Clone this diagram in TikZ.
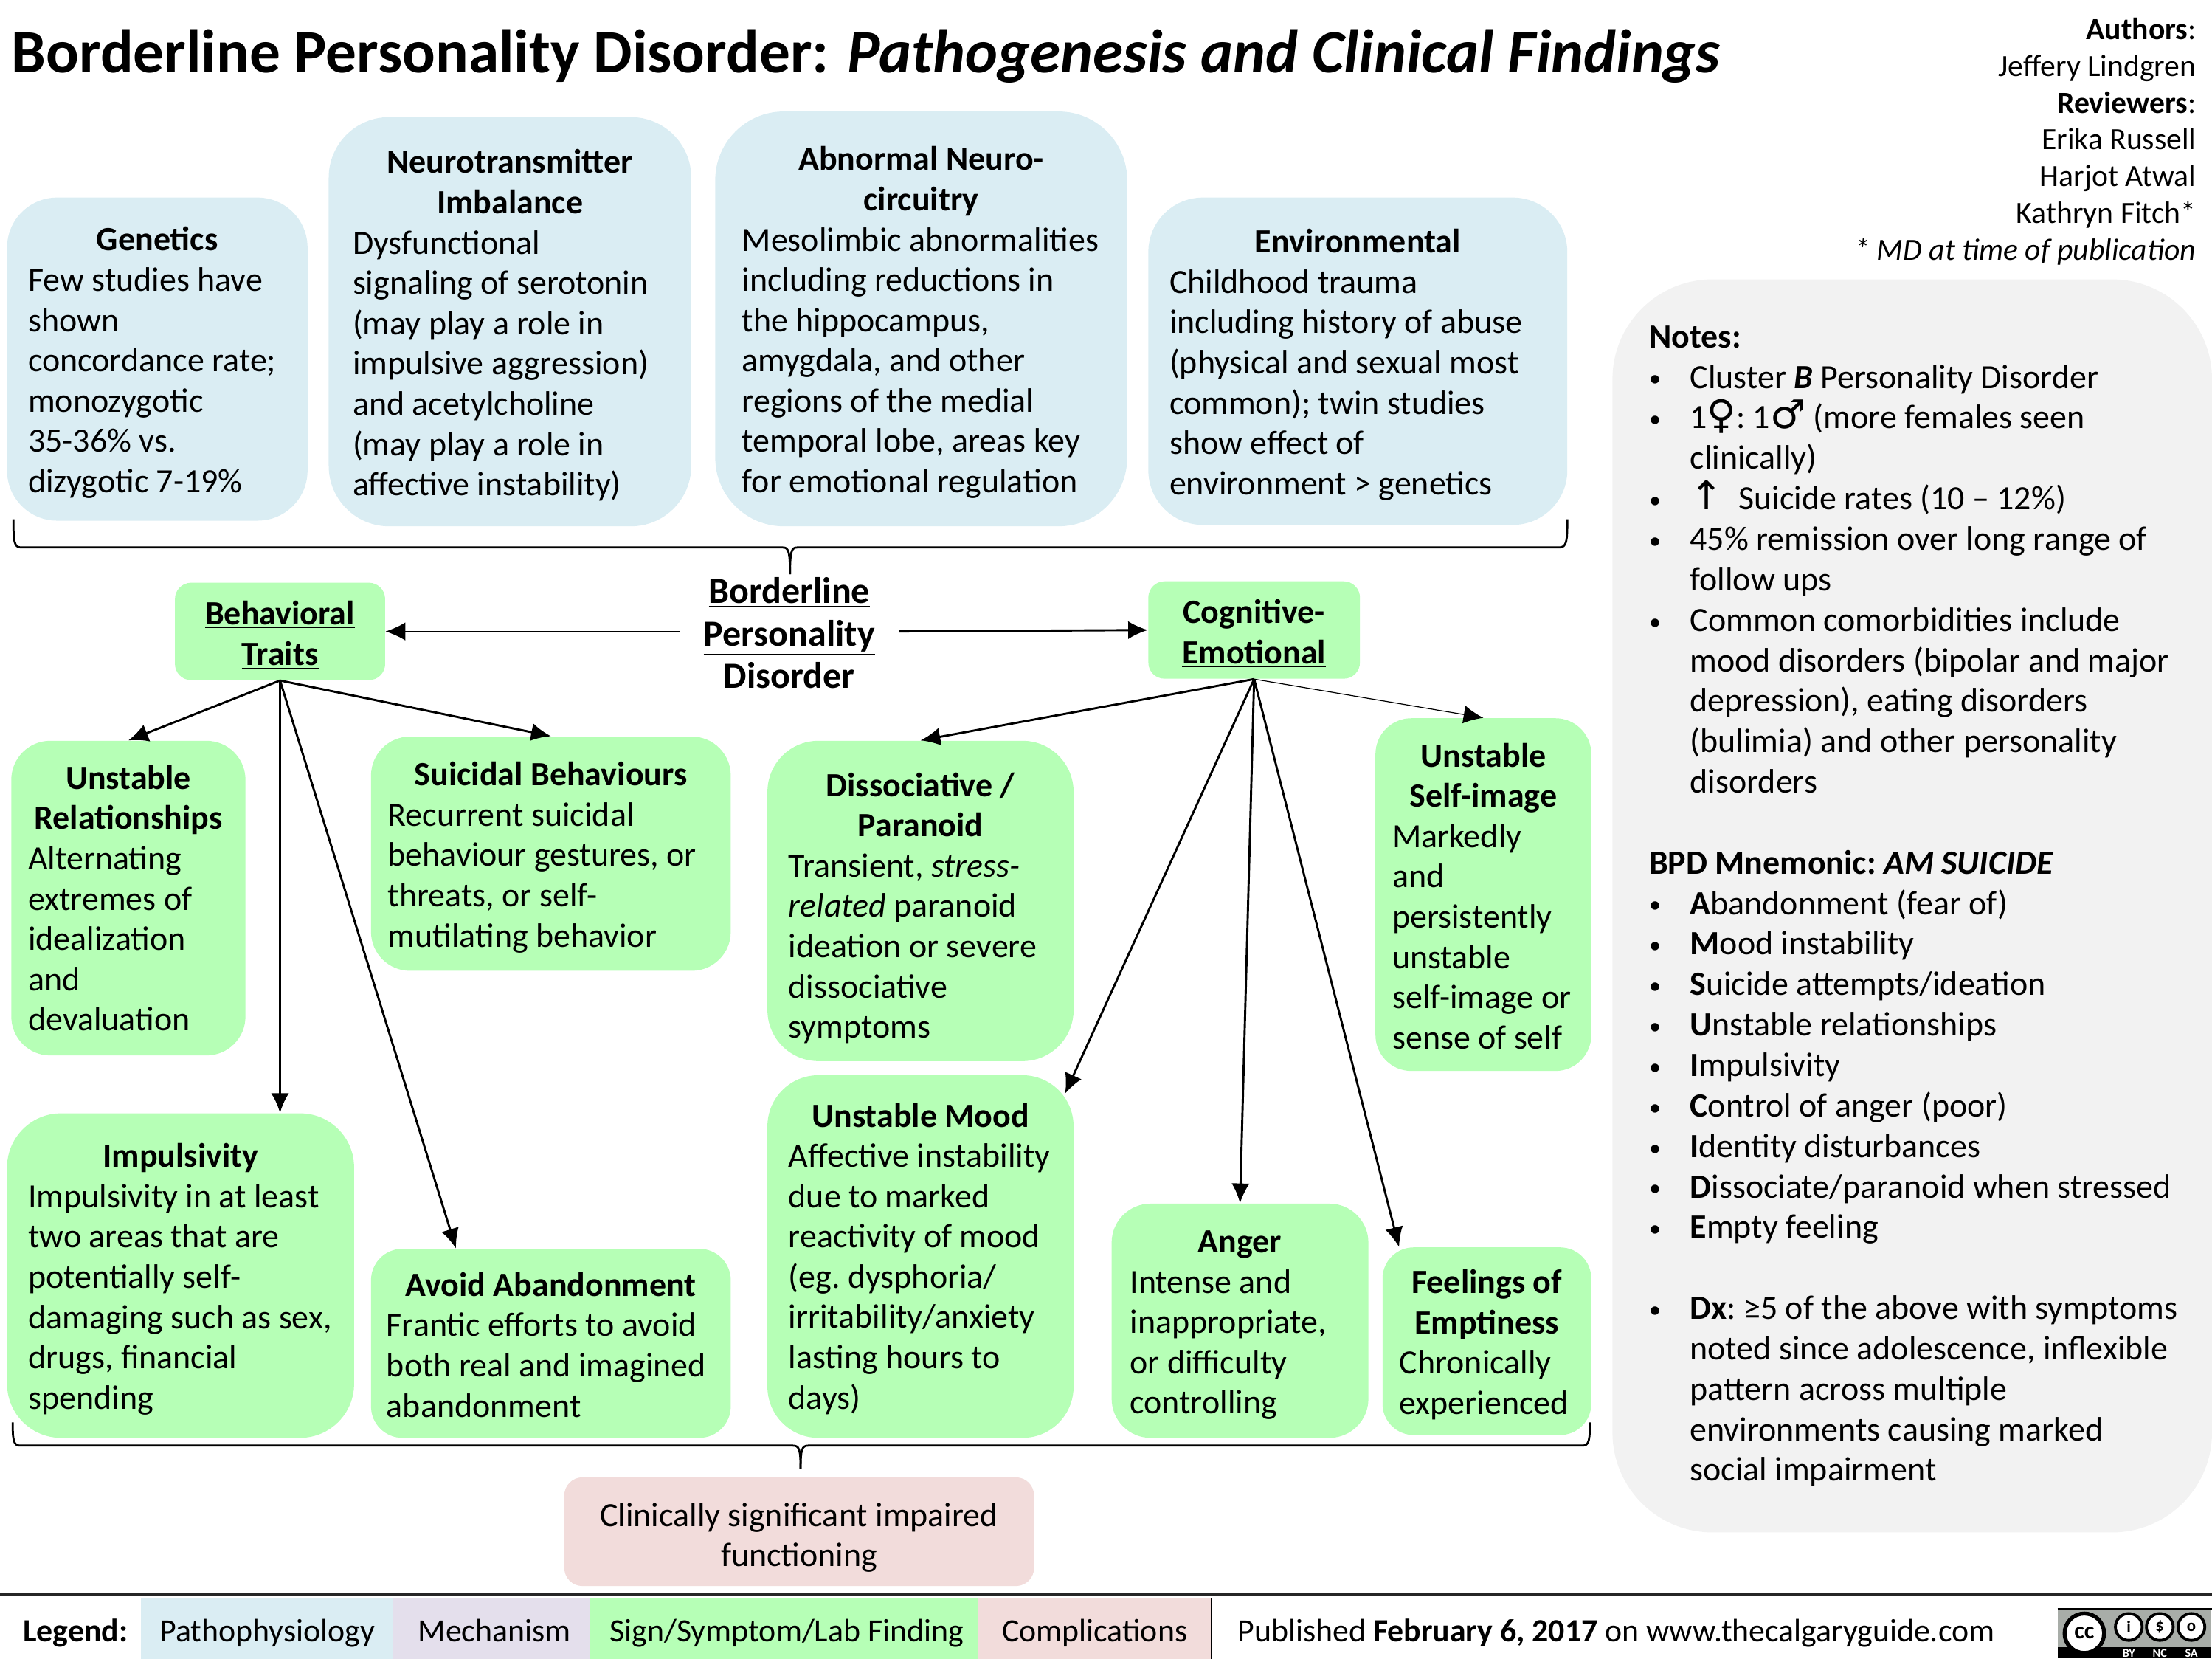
\documentclass[tikz,border=0pt]{standalone}
\usepackage{fontspec}
\setmainfont{Carlito}
\newfontfamily\symbfont{DejaVu Sans}
\usetikzlibrary{arrows.meta}

\definecolor{pathoblue}{HTML}{DAEDF3}
\definecolor{mechpurple}{HTML}{E4DFEC}
\definecolor{signgreen}{HTML}{B6FFB6}
\definecolor{comppink}{HTML}{F2DCDB}
\definecolor{notegrey}{HTML}{F2F2F2}
\definecolor{badgegrey}{HTML}{A8ADA8}

\newlength{\pxlen}
\setlength{\pxlen}{0.025cm}
\newcommand{\bodyfont}{\fontsize{17.1}{20.3}\selectfont}
\newcommand{\notefont}{\fontsize{17.1}{20.4}\selectfont}
\newcommand{\boxtitle}[1]{\makebox[\hsize][c]{\bfseries #1}}
\newcommand{\headtext}[1]{\bfseries\underline{#1}}
\newcommand{\noteitem}[1]{\hspace*{0.15cm}\makebox[0.725cm][l]{\raisebox{0.8pt}{\fontsize{12}{12}\selectfont •}}#1}
\newcommand{\noteline}[1]{\hspace*{0.875cm}#1}
\newcommand{\symbglyph}[1]{\smash{\fontsize{20}{20}\selectfont\symbfont #1}}

\begin{document}
\begin{tikzpicture}[x=0.025cm,y=-0.025cm,>={Latex[length=3.5mm,width=3.2mm]}]
	\tikzset{
		textshift/.code={\def\textrise{#1}},
		boxsize/.style n args={3}{inner ysep=0pt,align=left,font=\bodyfont,
			minimum height=#2*0.025cm,inner xsep=#3*0.025cm,
			text width=(#1-2*#3)*0.025cm,textshift=22,
			execute at begin node={\spaceskip=0.226em\xspaceskip=0.226em\rule{0pt}{\textrise\pxlen}},
			rounded corners={min(#1,#2)*0.1667*0.025cm}},
		cause/.style={fill=pathoblue},
		finding/.style={fill=signgreen},
		complication/.style={fill=comppink},
		legenditem/.style={font=\fontsize{16.3}{20}\selectfont,minimum height=42.7*0.025cm,inner sep=0pt,text height=16.5pt,text depth=3.6pt},
		edge/.style={draw=black,line width=0.38mm},
		thinedge/.style={draw=black,line width=0.16mm},
		brace/.style={draw=black,line width=0.36mm}
	}
	\useasboundingbox (0,0) rectangle (1568,1175.7);

	% title and authors
	\node [anchor=west,inner sep=0pt,font=\fontsize{31}{38}\selectfont\bfseries] (title) at (8,40) {Borderline Personality Disorder: \textit{Pathogenesis and Clinical Findings}};
	\node [anchor=north east,inner sep=0pt,align=right,font=\fontsize{15.5}{18.5}\selectfont] (authors) at (1557,12.5) {\textbf{Authors}:\\Jeffery Lindgren\\\textbf{Reviewers}:\\Erika Russell\\Harjot Atwal\\Kathryn Fitch*\\\textit{* MD at time of publication}};

	% pathophysiology row
	\node [cause,boxsize={213}{229}{15}] (genetics) at (111.5,254.5) {\boxtitle{Genetics}\\Few studies have\\shown\\concordance rate;\\monozygotic\\35-36\% vs.\\dizygotic 7-19\%};
	\node [cause,boxsize={257}{290}{17}] (neuro) at (361.5,228) {\boxtitle{Neurotransmitter}\\\boxtitle{Imbalance}\\Dysfunctional\\signaling of serotonin\\(may play a role in\\impulsive aggression)\\and acetylcholine\\(may play a role in\\affective instability)};
	\node [cause,boxsize={292}{294}{19}] (circuitry) at (653,226) {\boxtitle{Abnormal Neuro-}\\\boxtitle{circuitry}\\Mesolimbic abnormalities\\including reductions in\\the hippocampus,\\amygdala, and other\\regions of the medial\\temporal lobe, areas key\\for emotional regulation};
	\node [cause,boxsize={297}{232}{15}] (environment) at (962.5,256) {\boxtitle{Environmental}\\Childhood trauma\\including history of abuse\\(physical and sexual most\\common); twin studies\\show effect of\\environment > genetics};

	% disease and the two groups
	\node [inner sep=0pt,minimum width=155*0.025cm,align=center,font=\fontsize{18.6}{21.3}\selectfont] (bpd) at (559.5,450) {\headtext{Borderline}\\\headtext{Personality}\\\headtext{Disorder}};
	\node [finding,boxsize={149}{69}{5},align=center] (behavioral) at (198.5,447.5) {\headtext{Behavioral}\\\headtext{Traits}};
	\node [finding,boxsize={150}{69}{5},align=center] (cognitive) at (889,446.5) {\headtext{Cognitive-}\\\headtext{Emotional}};

	% behavioral traits
	\node [finding,boxsize={166}{223}{12},textshift=17] (relationships) at (91,636.5) {\boxtitle{Unstable}\\\boxtitle{Relationships}\\Alternating\\extremes of\\idealization\\and\\devaluation};
	\node [finding,boxsize={255}{166}{12}] (suicidal) at (390.5,605) {\boxtitle{Suicidal Behaviours}\\Recurrent suicidal\\behaviour gestures, or\\threats, or self-\\mutilating behavior};
	\node [finding,boxsize={246}{230}{15}] (impulsivity) at (128,904) {\boxtitle{Impulsivity}\\Impulsivity in at least\\two areas that are\\potentially self-\\damaging such as sex,\\drugs, financial\\spending};
	\node [finding,boxsize={255}{134}{11},textshift=19] (abandonment) at (390.5,952) {\boxtitle{Avoid Abandonment}\\Frantic efforts to avoid\\both real and imagined\\abandonment};

	% cognitive-emotional
	\node [finding,boxsize={217}{227}{15},textshift=27] (dissociative) at (652.5,638.5) {\boxtitle{Dissociative /}\\\boxtitle{Paranoid}\\Transient, \textit{stress-}\\\textit{related} paranoid\\ideation or severe\\dissociative\\symptoms};
	\node [finding,boxsize={153}{250}{12},textshift=19] (selfimage) at (1051.5,634) {\boxtitle{Unstable}\\\boxtitle{Self-image}\\Markedly\\and\\persistently\\unstable\\self-image or\\sense of self};
	\node [finding,boxsize={217}{257}{15},textshift=20] (mood) at (652.5,890.5) {\boxtitle{Unstable Mood}\\Affective instability\\due to marked\\reactivity of mood\\(eg. dysphoria/\\irritability/anxiety\\lasting hours to\\days)};
	\node [finding,boxsize={182}{166}{13}] (anger) at (879,936) {\boxtitle{Anger}\\Intense and\\inappropriate,\\or difficulty\\controlling};
	\node [finding,boxsize={148}{133}{12}] (emptiness) at (1054,950.5) {\boxtitle{Feelings of}\\\boxtitle{Emptiness}\\Chronically\\experienced};

	\node [complication,boxsize={333}{77}{20},align=center,textshift=25] (impaired) at (566.5,1085.5) {Clinically significant impaired\\functioning};

	% notes
	\node [fill=notegrey,boxsize={425}{888}{20},font=\notefont,textshift=16] (notes) at (1355.5,642) {\hspace*{0.15cm}\textbf{Notes:}\\
		\noteitem{Cluster \textbf{\textit{B}} Personality Disorder}\\
		\noteitem{1\symbglyph{♀}: 1\symbglyph{♂} (more females seen}\\
		\noteline{clinically)}\\
		\noteitem{\symbglyph{↑}\ \ Suicide rates (10 – 12\%)}\\
		\noteitem{45\% remission over long range of}\\
		\noteline{follow ups}\\
		\noteitem{Common comorbidities include}\\
		\noteline{mood disorders (bipolar and major}\\
		\noteline{depression), eating disorders}\\
		\noteline{(bulimia) and other personality}\\
		\noteline{disorders}\\
		\mbox{}\\
		\hspace*{0.15cm}\textbf{BPD Mnemonic: \textit{AM SUICIDE}}\\
		\noteitem{\textbf{A}bandonment (fear of)}\\
		\noteitem{\textbf{M}ood instability}\\
		\noteitem{\textbf{S}uicide attempts/ideation}\\
		\noteitem{\textbf{U}nstable relationships}\\
		\noteitem{\textbf{I}mpulsivity}\\
		\noteitem{\textbf{C}ontrol of anger (poor)}\\
		\noteitem{\textbf{I}dentity disturbances}\\
		\noteitem{\textbf{D}issociate/paranoid when stressed}\\
		\noteitem{\textbf{E}mpty feeling}\\
		\mbox{}\\
		\noteitem{\textbf{Dx}: ≥5 of the above with symptoms}\\
		\noteline{noted since adolescence, inflexible}\\
		\noteline{pattern across multiple}\\
		\noteline{environments causing marked}\\
		\noteline{social impairment}};

	% arrows
	\coordinate (moodtip) at (755,775);
	\path[thinedge,->] (bpd.west |- behavioral.east) -- (behavioral.east);
	\path[edge,->] (bpd.east |- behavioral.east) -- (cognitive.west);
	\path[edge,->] (behavioral.south) -- (relationships.north);
	\path[edge,->] (behavioral.south) -- (suicidal.north);
	\path[edge,->] (behavioral.south) -- (behavioral.south |- impulsivity.north);
	\path[edge,->] (behavioral.south) -- (abandonment.135.6);
	\path[edge,->] (cognitive.south) -- (dissociative.north);
	\path[edge,->] (cognitive.south) -- (moodtip);
	\path[edge,->] (cognitive.south) -- (anger.north);
	\path[edge,->] (cognitive.south) -- (emptiness.133.9);
	\path[thinedge,->] (cognitive.south) -- (selfimage.north);

	% braces
	\path[brace] (9.5,368) .. controls (9.5,384) and (10,388) .. (15,388) -- (555,388) .. controls (559,388) and (560,391) .. (560,407);
	\path[brace] (1111,368) .. controls (1111,384) and (1110.5,388) .. (1105,388) -- (565,388) .. controls (561,388) and (560,391) .. (560,407);
	\path[brace] (9,1008) .. controls (9,1020) and (9.5,1024.5) .. (14,1024.5) -- (562,1024.5) .. controls (566.5,1024.5) and (567.5,1027) .. (567.5,1041);
	\path[brace] (1127,1008) .. controls (1127,1020) and (1126.5,1024.5) .. (1122,1024.5) -- (573,1024.5) .. controls (568.5,1024.5) and (567.5,1027) .. (567.5,1041);

	% legend
	\path[draw=black!85,line width=0.6mm] (0,1130) -- (1568,1130);
	\node [anchor=base west,inner sep=0pt,font=\fontsize{16.3}{20}\selectfont\bfseries] (legend) at (16,1163.5) {Legend:};
	\node [legenditem,fill=pathoblue,minimum width=179*0.025cm] (patho) at (189.5,1154.4) {Pathophysiology};
	\node [legenditem,fill=mechpurple,minimum width=139*0.025cm] (mechanism) at (348.5,1154.4) {\hspace*{4\pxlen}Mechanism};
	\node [legenditem,fill=signgreen,minimum width=275.5*0.025cm] (sign) at (555.8,1154.4) {\hspace*{4\pxlen}Sign/Symptom/Lab Finding};
	\node [legenditem,fill=comppink,minimum width=165*0.025cm] (complications) at (776,1154.4) {Complications};
	\path[draw=black,line width=0.25mm] (complications.north east) -- (complications.south east);
	\node [anchor=base west,inner sep=0pt,font=\fontsize{16.3}{20}\selectfont] (published) at (877,1163.5) {Published \textbf{February 6, 2017} on www.thecalgaryguide.com};

	% licence badge
	\node [anchor=south east,inner sep=0pt,minimum width=109*0.025cm,minimum height=35*0.025cm,fill=badgegrey] (badge) at (1568,1175.7) {};
	\path[draw=black,line width=0.3mm] (badge.north west) -- (badge.north east);
	\node [anchor=south,inner sep=0pt,minimum width=109*0.025cm,minimum height=8.3*0.025cm,fill=black] (strip) at (badge.south) {};
	\node [circle,draw=black,fill=white,line width=0.7mm,minimum size=28*0.025cm,inner sep=0pt,font=\fontsize{12}{12}\selectfont\bfseries] (cc) at (1477.5,1157.5) {cc};
	\foreach \name/\cx/\txt in {by/1509/i,nc/1531/\$,sa/1553.4/o}
		\node [circle,draw=black,fill=white,line width=0.5mm,minimum size=19*0.025cm,inner sep=0pt,font=\fontsize{8.5}{9}\selectfont\bfseries] (\name) at (\cx,1153) {\txt};
	\foreach \name/\cx/\txt in {bytext/1509/BY,nctext/1531/NC,satext/1553.4/SA}
		\node [text=white,inner sep=0pt,font=\fontsize{6}{6}\selectfont\bfseries] (\name) at (\cx,1171.5) {\txt};
\end{tikzpicture}
\end{document}
